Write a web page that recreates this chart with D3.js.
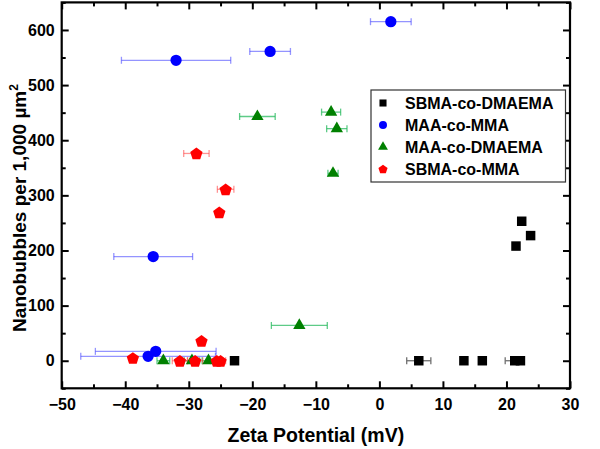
<!DOCTYPE html>
<html>
<head>
<meta charset="utf-8">
<script src="https://cdn.jsdelivr.net/npm/d3@7"></script>
<style>
  html, body { margin: 0; padding: 0; background: #fff; }
  svg { display: block; }
  text { font-family: "Liberation Sans", Arial, sans-serif; }
</style>
</head>
<body>
<svg id="chart" width="600" height="449"></svg>
<script>
// ---------- data ----------
const seriesNames = ["SBMA-co-DMAEMA", "MAA-co-MMA", "MAA-co-DMAEMA", "SBMA-co-MMA"];

const sbmaDmaemaX    = [22.4, 23.8, 21.5, 6.2, 13.3, 16.2, 21.3, 22.2, -22.8];
const sbmaDmaemaY    = [253, 227, 208, 0, 0, 0, 0, 0, 0];
const sbmaDmaemaXErr = [0, 0, 0.4, 1.9, 0, 0, 1.5, 0, 0.6];

const maaMmaX    = [1.8, -17.2, -32.0, -35.6, -36.4, -35.2];
const maaMmaY    = [615, 561, 545, 189, 8, 17];
const maaMmaXErr = [3.2, 3.2, 8.6, 6.2, 10.6, 9.5];

const maaDmaemaX    = [-7.6, -6.7, -7.3, -19.2, -12.6, -34.0, -29.5, -26.9];
const maaDmaemaY    = [451, 421, 340, 443, 64, 0, 0, 0];
const maaDmaemaXErr = [1.5, 1.6, 0.8, 2.8, 4.4, 1.0, 1.2, 1.0];

const sbmaMmaX    = [-28.8, -24.2, -25.2, -28.0, -38.8, -31.4, -29.0, -25.6, -25.0];
const sbmaMmaY    = [376, 311, 269, 36, 5, 0, 0, 0, 0];
const sbmaMmaXErr = [2.0, 1.3, 0, 0, 0, 1.2, 1.2, 1.0, 0.8];

const xTicks = [-50, -40, -30, -20, -10, 0, 10, 20, 30];
const yTicks = [0, 100, 200, 300, 400, 500, 600];
const xMinorTicks = [-45, -35, -25, -15, -5, 5, 15, 25];
const yMinorTicks = [-50, 50, 150, 250, 350, 450, 550, 650];

const xTitle = "Zeta Potential (mV)";
const yTitleMain = "Nanobubbles per 1,000 µm";
const yTitleSup = "2";

// ---------- setup ----------
const FONT = "'Liberation Sans', Arial, sans-serif";
const svg = d3.select("#chart");
const L = 61.7, R = 570, T = 2.4, B = 388.3;
const x = d3.scaleLinear().domain([-50, 30]).range([L, R]);
const y = d3.scaleLinear().domain([-50, 650]).range([B, T]);

const pentagon = {
  draw(ctx, size) {
    const r = Math.sqrt(size / 2.378);
    for (let i = 0; i < 5; i++) {
      const a = -Math.PI / 2 + i * 2 * Math.PI / 5;
      const px = r * Math.cos(a), py = r * Math.sin(a) + r * 0.1;
      if (i === 0) ctx.moveTo(px, py); else ctx.lineTo(px, py);
    }
    ctx.closePath();
  }
};

const series = [
  { name: seriesNames[0], xs: sbmaDmaemaX, ys: sbmaDmaemaY, es: sbmaDmaemaXErr,
    color: "#000000", err: "#707070", type: d3.symbolSquare, size: 90, lsize: 50 },
  { name: seriesNames[1], xs: maaMmaX, ys: maaMmaY, es: maaMmaXErr,
    color: "#0000ff", err: "rgba(60,60,255,0.55)", type: d3.symbolCircle, size: 100, lsize: 50 },
  { name: seriesNames[2], xs: maaDmaemaX, ys: maaDmaemaY, es: maaDmaemaXErr,
    color: "#008000", err: "rgba(40,185,95,0.75)", type: d3.symbolTriangle, size: 66, lsize: 42 },
  { name: seriesNames[3], xs: sbmaMmaX, ys: sbmaMmaY, es: sbmaMmaXErr,
    color: "#ff0000", err: "rgba(255,60,60,0.55)", type: pentagon, size: 100, lsize: 55 }
];

// ---------- axes ----------
function styleAxis(g) {
  g.attr("font-family", FONT);
  g.select(".domain").remove();
  g.selectAll(".tick line").attr("stroke", "#000").attr("stroke-width", 2);
  g.selectAll(".tick text").attr("fill", "#000").attr("font-weight", "bold")
    .attr("font-size", 16).attr("font-family", FONT);
}
svg.append("g").attr("transform", `translate(0,${B})`)
  .call(d3.axisBottom(x).tickValues(xTicks).tickSize(-7).tickPadding(10).tickFormat(d3.format("d")))
  .call(styleAxis);
svg.append("g").attr("transform", `translate(0,${B})`)
  .call(d3.axisBottom(x).tickValues(xMinorTicks).tickSize(-4).tickFormat(""))
  .call(styleAxis);
svg.append("g").attr("transform", `translate(0,${T})`)
  .call(d3.axisTop(x).tickValues(xTicks).tickSize(-7).tickFormat(""))
  .call(styleAxis);
svg.append("g").attr("transform", `translate(0,${T})`)
  .call(d3.axisTop(x).tickValues(xMinorTicks).tickSize(-4).tickFormat(""))
  .call(styleAxis);
svg.append("g").attr("transform", `translate(${L},0)`)
  .call(d3.axisLeft(y).tickValues(yTicks).tickSize(-7).tickPadding(7).tickFormat(d3.format("d")))
  .call(styleAxis);
svg.append("g").attr("transform", `translate(${L},0)`)
  .call(d3.axisLeft(y).tickValues(yMinorTicks).tickSize(-4).tickFormat(""))
  .call(styleAxis);
svg.append("g").attr("transform", `translate(${R},0)`)
  .call(d3.axisRight(y).tickValues(yTicks).tickSize(-7).tickFormat(""))
  .call(styleAxis);
svg.append("g").attr("transform", `translate(${R},0)`)
  .call(d3.axisRight(y).tickValues(yMinorTicks).tickSize(-4).tickFormat(""))
  .call(styleAxis);

svg.append("rect").attr("x", L).attr("y", T).attr("width", R - L).attr("height", B - T)
  .attr("fill", "none").attr("stroke", "#000").attr("stroke-width", 2.2);

// ---------- titles ----------
svg.append("text").attr("x", (L + R) / 2).attr("y", 442).attr("text-anchor", "middle")
  .attr("font-family", FONT).attr("font-weight", "bold").attr("font-size", 19.5).text(xTitle);

const yt = svg.append("text").attr("transform", "translate(26,208) rotate(-90)")
  .attr("text-anchor", "middle").attr("font-family", FONT)
  .attr("font-weight", "bold").attr("font-size", 19);
yt.append("tspan").text(yTitleMain);
yt.append("tspan").attr("font-size", 12).attr("dy", -8).text(yTitleSup);

// ---------- error bars ----------
const cap = 3.5;
series.forEach(s => {
  const g = svg.append("g");
  s.xs.forEach((xv, i) => {
    const e = s.es[i];
    if (!e) return;
    const yy = y(s.ys[i]), x0 = x(xv - e), x1 = x(xv + e);
    g.append("line").attr("x1", x0).attr("x2", x1).attr("y1", yy).attr("y2", yy)
      .attr("stroke", s.err).attr("stroke-width", 1.3);
    [x0, x1].forEach(cx => g.append("line").attr("x1", cx).attr("x2", cx)
      .attr("y1", yy - cap).attr("y2", yy + cap).attr("stroke", s.err).attr("stroke-width", 1.3));
  });
});

// ---------- markers ----------
series.forEach(s => {
  const sym = d3.symbol().type(s.type).size(s.size);
  svg.append("g").selectAll("path").data(s.xs.map((xv, i) => [xv, s.ys[i]])).join("path")
    .attr("transform", d => `translate(${x(d[0])},${y(d[1])})`)
    .attr("d", sym).attr("fill", s.color);
});

// ---------- legend ----------
const lg = svg.append("g");
lg.append("rect").attr("x", 371).attr("y", 90).attr("width", 194.5).attr("height", 92)
  .attr("fill", "#fff").attr("stroke", "#333").attr("stroke-width", 1.2);
series.forEach((s, i) => {
  const ly = 103 + i * 22;
  lg.append("path").attr("transform", `translate(383,${ly})`)
    .attr("d", d3.symbol().type(s.type).size(s.lsize)).attr("fill", s.color);
  lg.append("text").attr("x", 405).attr("y", ly + 6).attr("font-family", FONT)
    .attr("font-weight", "bold").attr("font-size", 16).text(s.name);
});
</script>
</body>
</html>
